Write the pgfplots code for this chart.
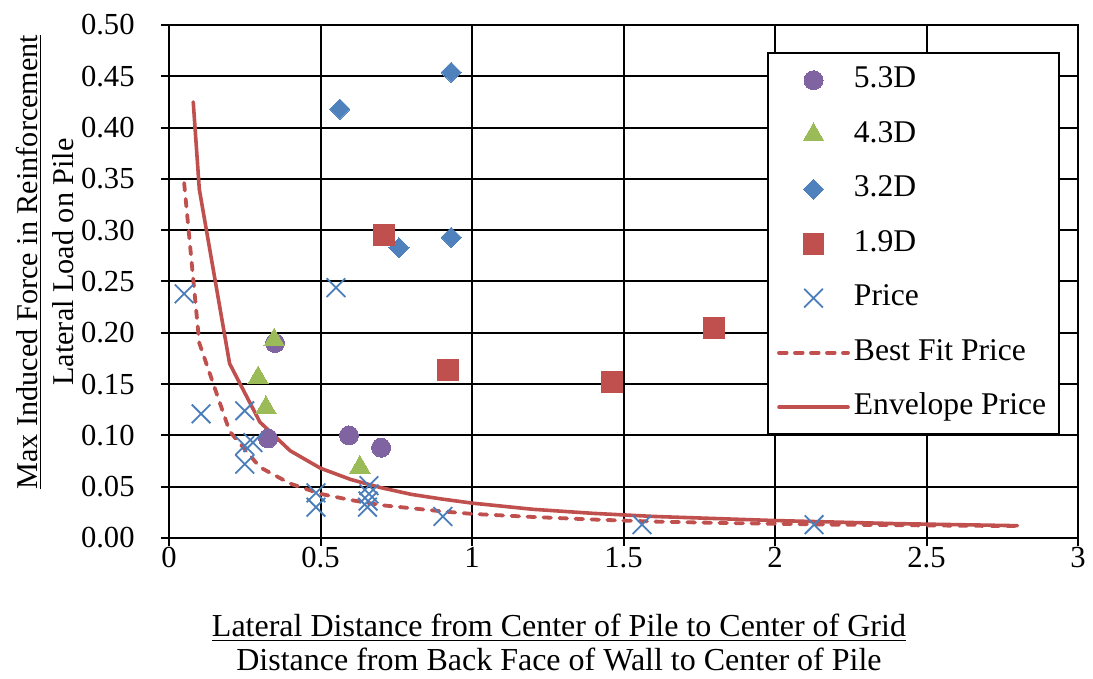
\documentclass[border=0pt]{standalone}
\usepackage{fontspec}
\setmainfont{Liberation Serif}
\usepackage{pgfplots}
\pgfplotsset{compat=1.18}
\definecolor{cpurple}{HTML}{8064A2}
\definecolor{cgreen}{HTML}{9BBB59}
\definecolor{cblue}{HTML}{4F81BD}
\definecolor{cred}{HTML}{C0504D}
\definecolor{cx}{HTML}{4A7EBB}
\begin{document}
\begin{tikzpicture}[font=\fontsize{15.3pt}{17pt}\selectfont]
\begin{axis}[
  name=ax,
  set layers,
  scale only axis,
  width=454.5pt, height=256.5pt,
  xmin=0, xmax=3, ymin=0, ymax=0.5,
  xtick={0,0.5,1,1.5,2,2.5,3},
  xticklabels={0,0.5,1,1.5,2,2.5,3},
  ytick={0,0.05,0.1,0.15,0.2,0.25,0.3,0.35,0.4,0.45,0.5},
  yticklabels={0.00,0.05,0.10,0.15,0.20,0.25,0.30,0.35,0.40,0.45,0.50},
  xticklabel style={anchor=north, inner sep=0pt, yshift=-0.3pt},
  yticklabel style={anchor=east, inner sep=0pt, xshift=-13pt},
  tick pos=left,
  tick align=outside,
  major tick length=4pt,
  tick style={black, line width=1pt},
  grid=major,
  major grid style={black, line width=1pt},
  axis line style={black, line width=1pt},
  clip=false,
  xlabel={\underline{Lateral Distance from Center of Pile to Center of Grid}\\Distance from Back Face of Wall to Center of Pile},
  xlabel style={at={(axis description cs:0.429,0)}, anchor=north, inner sep=0pt, yshift=-38pt, align=center, font=\fontsize{16pt}{17pt}\selectfont},
  ylabel={\underline{Max Induced Force in Reinforcement}\\[1pt]Lateral Load on Pile},
  ylabel style={at={(axis description cs:-0.1045,0.538)}, anchor=south, inner sep=0pt, rotate=0, align=center, font=\fontsize{15.1pt}{17pt}\selectfont},
  legend image code/.code={\draw[mark repeat=2,mark phase=2,#1] plot coordinates {(0pt,0pt) (17.25pt,0pt) (34.5pt,0pt)};},
  legend style={at={(axis description cs:0.658,0.947)}, anchor=north west, draw=black, line width=1pt, fill=white,
     inner xsep=4.5pt, inner ysep=4.25pt, row sep=8.75pt, font=\fontsize{15.8pt}{17pt}\selectfont,
     nodes={inner sep=2pt, text height=11pt, text depth=3.5pt}},
  legend cell align=left,
]
\addplot[only marks, mark=*, mark size=4.75pt, color=cpurple, mark options={fill=cpurple, draw=cpurple, line width=0pt}]
  coordinates {(0.350,0.190) (0.327,0.097) (0.594,0.100) (0.700,0.088)};
\addlegendentry{5.3D}
\addplot[only marks, mark=triangle*, mark size=5.9pt, color=cgreen, mark options={fill=cgreen, draw=cgreen, line width=0pt}]
  coordinates {(0.347,0.193) (0.294,0.156) (0.320,0.127) (0.630,0.069)};
\addlegendentry{4.3D}
\addplot[only marks, mark=square*, mark size=3.55pt, color=cblue, mark options={fill=cblue, draw=cblue, line width=0pt, rotate=45}]
  coordinates {(0.931,0.454) (0.564,0.418) (0.759,0.283) (0.931,0.293)};
\addlegendentry{3.2D}
\addplot[only marks, mark=square*, mark size=5.2pt, color=cred, mark options={fill=cred, draw=cred, line width=0pt}]
  coordinates {(0.710,0.295) (0.921,0.164) (1.462,0.152) (1.799,0.205)};
\addlegendentry{1.9D}
\addplot[only marks, mark=x, mark size=6.6pt, color=cx, mark options={line width=0.9pt}]
  coordinates {(0.050,0.238) (0.551,0.244) (0.106,0.121) (0.250,0.124) (0.277,0.093) (0.250,0.090) (0.250,0.072)
  (0.485,0.044) (0.485,0.030) (0.660,0.051) (0.660,0.043) (0.657,0.036) (0.655,0.030) (0.904,0.021) (1.561,0.013) (2.129,0.013)};
\addlegendentry{Price}
\addplot[on layer=pre main, color=cred, line width=1.9pt, dash pattern=on 3.8pt off 4.2pt, line cap=round, mark=none]
  coordinates {(0.05,0.346) (0.1,0.190) (0.2,0.104) (0.3,0.069) (0.4,0.053) (0.5,0.043) (0.6,0.037) (0.7,0.032)
  (0.8,0.029) (0.9,0.026) (1.0,0.0235) (1.2,0.0205) (1.4,0.018) (1.6,0.016) (1.8,0.0148) (2.0,0.0138)
  (2.2,0.013) (2.4,0.0125) (2.6,0.012) (2.8,0.0116)};
\addlegendentry{Best Fit Price}
\addplot[on layer=pre main, color=cred, line width=1.8pt, line cap=round, mark=none]
  coordinates {(0.08,0.425) (0.1,0.340) (0.2,0.170) (0.3,0.113) (0.4,0.085) (0.5,0.068) (0.6,0.057) (0.7,0.049)
  (0.8,0.0425) (0.9,0.038) (1.0,0.034) (1.2,0.028) (1.4,0.024) (1.6,0.021) (1.8,0.019) (2.0,0.017)
  (2.2,0.0155) (2.4,0.014) (2.6,0.013) (2.8,0.012)};
\addlegendentry{Envelope Price}
\end{axis}
\pgfresetboundingbox
\path[use as bounding box] (ax.south west) ++(-84.5pt,-70.5pt) rectangle ++(546.5pt,339.5pt);
\end{tikzpicture}
\end{document}
